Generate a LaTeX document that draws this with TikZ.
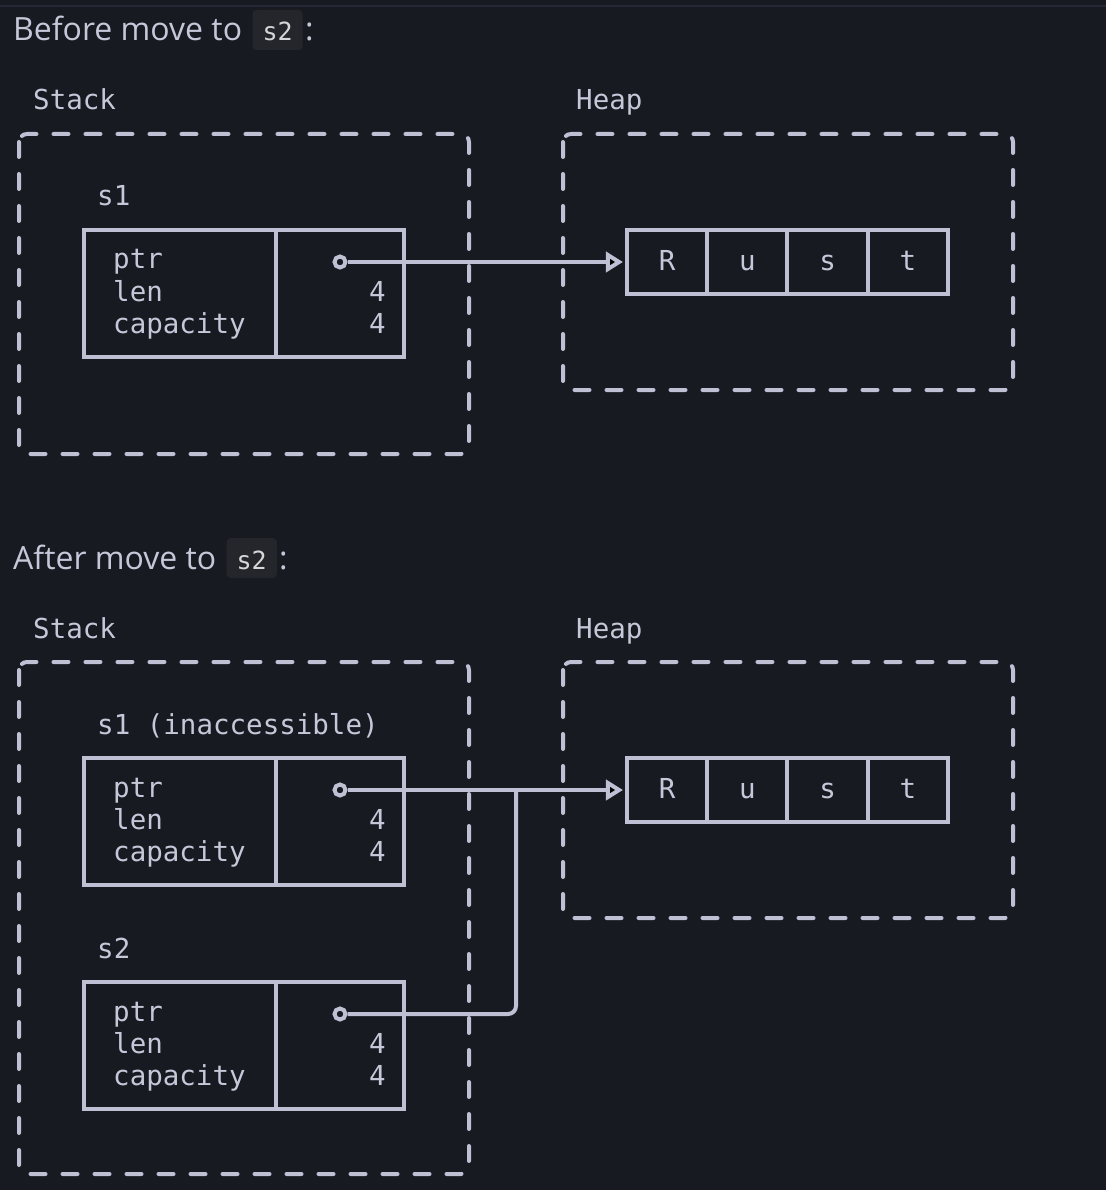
\documentclass[tikz,border=0pt]{standalone}
\usepackage{fontspec}
\setmainfont{Open Sans}
\setmonofont{DejaVu Sans Mono}
\usetikzlibrary{arrows.meta, positioning}
\definecolor{bgcol}{RGB}{24,26,34}
\definecolor{inkcol}{RGB}{191,192,211}
\definecolor{txtcol}{RGB}{198,199,216}
\definecolor{rulecol}{RGB}{38,40,53}
\definecolor{codecol}{RGB}{37,38,43}
\definecolor{codetxt}{RGB}{214,214,214}
\tikzset{
  mono/.style = {font=\ttfamily\fontsize{27.5}{32}\selectfont, text=txtcol, inner sep=0},
  title/.style = {font=\fontsize{32}{38}\selectfont, text=txtcol, inner sep=0},
  code/.style = {fill=codecol, rounded corners=4pt, font=\ttfamily\fontsize{25}{30}\selectfont, text=codetxt, inner xsep=10pt, inner ysep=0pt, text height=31pt, text depth=9pt},
  region/.style = {draw=inkcol, line width=4pt, dash pattern=on 15pt off 17pt, line cap=round, rounded corners=8pt},
  varbox/.style = {draw=inkcol, line width=4pt},
  cell/.style = {draw=inkcol, line width=4pt, minimum width=80.25pt, minimum height=64pt, outer sep=0pt, inner sep=0pt, text height=16pt, text depth=0pt, font=\ttfamily\fontsize{27.5}{32}\selectfont, text=txtcol},
  dot/.style = {draw=inkcol, fill=bgcol, circle, line width=4pt, inner sep=0, minimum size=11pt},
  wire/.style = {draw=inkcol, line width=4pt},
  ptr/.style = {-{Triangle[fill=black, length=17pt, width=20pt]}, shorten >=4pt},
}
\begin{document}
\begin{tikzpicture}[x=1pt, y=-1pt]
    \fill [bgcol] (0, 0) rectangle (1106, 1190);
    \useasboundingbox (0, 0) rectangle (1106, 1190);
    \draw [rulecol, line width=2pt] (0, 6.5) -- (1106, 6.5);

    % before the move
    \node [title, anchor=base west] (before) at (13, 41) {Before move to};
    \node [code, right=10pt of before.base east, anchor=base west] (beforecode) {s2};
    \node [title, right=2pt of beforecode.base east, anchor=base west] (beforecolon) {:};

    \node [mono, anchor=base west] (stackA) at (33, 110) {Stack};
    \node [mono, anchor=base west] (heapA) at (576, 110) {Heap};
    \draw [region] (19, 134) rectangle (469, 454);
    \draw [region] (563, 134) rectangle (1013, 390);

    \node [mono, anchor=base west] (sA) at (97, 206) {s1};
    \draw [varbox] (84, 230) rectangle (404, 357);
    \draw [varbox] (276, 230) -- (276, 357);
    \node [mono, anchor=base west] at (113, 269) {ptr};
    \node [mono, anchor=base west] at (113, 301) {len};
    \node [mono, anchor=base west] at (113, 333) {capacity};
    \node [mono, anchor=base east] at (386, 301) {4};
    \node [mono, anchor=base east] at (386, 333) {4};
    \node [dot] (dotA) at (340, 262) {};

    \node [cell] (rA) at (667.1, 262) {R};
    \node [cell, right=0pt of rA] (uA) {u};
    \node [cell, right=0pt of uA] (sAcell) {s};
    \node [cell, right=0pt of sAcell] (tA) {t};

    \draw [wire, ptr] (dotA) -- (rA);

    % after the move
    \node [title, anchor=base west] (after) at (13, 569) {After move to};
    \node [code, right=10pt of after.base east, anchor=base west] (aftercode) {s2};
    \node [title, right=2pt of aftercode.base east, anchor=base west] (aftercolon) {:};

    \node [mono, anchor=base west] (stackB) at (33, 638) {Stack};
    \node [mono, anchor=base west] (heapB) at (576, 638) {Heap};
    \draw [region] (19, 662) rectangle (469, 1174);
    \draw [region] (563, 662) rectangle (1013, 918);

    \node [mono, anchor=base west] (sB) at (97, 734) {s1 (inaccessible)};
    \draw [varbox] (84, 758) rectangle (404, 885);
    \draw [varbox] (276, 758) -- (276, 885);
    \node [mono, anchor=base west] at (113, 797) {ptr};
    \node [mono, anchor=base west] at (113, 829) {len};
    \node [mono, anchor=base west] at (113, 861) {capacity};
    \node [mono, anchor=base east] at (386, 829) {4};
    \node [mono, anchor=base east] at (386, 861) {4};
    \node [dot] (dotB) at (340, 790) {};

    \node [mono, anchor=base west] (sC) at (97, 958) {s2};
    \draw [varbox] (84, 982) rectangle (404, 1109);
    \draw [varbox] (276, 982) -- (276, 1109);
    \node [mono, anchor=base west] at (113, 1021) {ptr};
    \node [mono, anchor=base west] at (113, 1053) {len};
    \node [mono, anchor=base west] at (113, 1085) {capacity};
    \node [mono, anchor=base east] at (386, 1053) {4};
    \node [mono, anchor=base east] at (386, 1085) {4};
    \node [dot] (dotC) at (340, 1014) {};

    \node [cell] (rB) at (667.1, 790) {R};
    \node [cell, right=0pt of rB] (uB) {u};
    \node [cell, right=0pt of uB] (sBcell) {s};
    \node [cell, right=0pt of sBcell] (tB) {t};

    \coordinate (join) at (516, 790);
    \draw [wire, ptr] (dotB) -- (rB);
    \draw [wire, rounded corners=8pt] (dotC) -| (join);
\end{tikzpicture}
\end{document}
